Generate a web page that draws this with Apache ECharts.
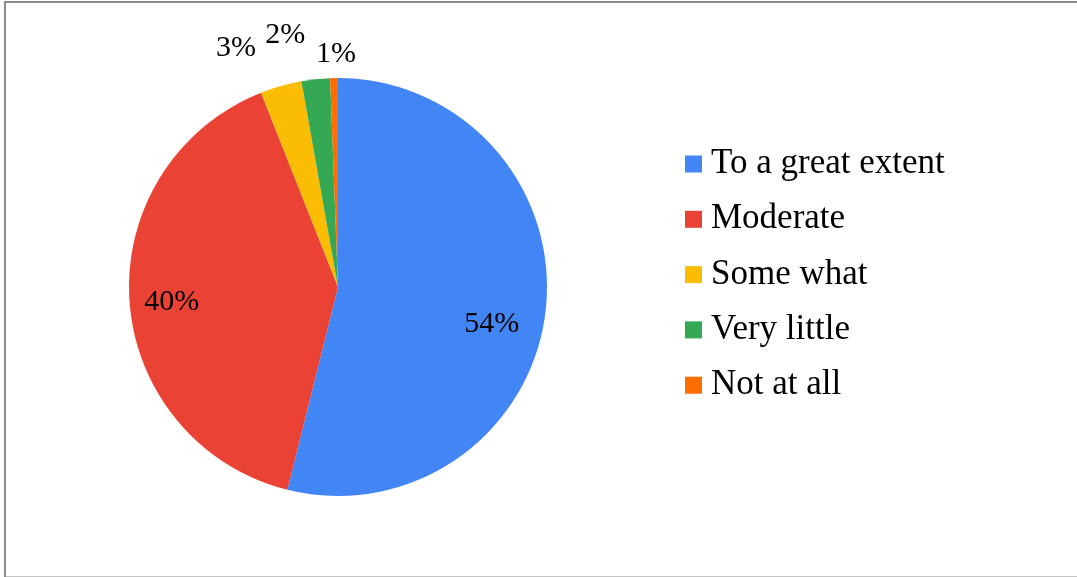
<!DOCTYPE html>
<html>
<head>
<meta charset="utf-8">
<script src="https://cdn.jsdelivr.net/npm/echarts@6/dist/echarts.min.js"></script>
<style>
html,body{margin:0;padding:0;background:#fff;}
#chart{width:1077px;height:577px;}
</style>
</head>
<body>
<div id="chart"></div>
<script>
// Data
const categories = ['To a great extent', 'Moderate', 'Some what', 'Very little', 'Not at all'];
const values = [53.9, 40.1, 3.2, 2.2, 0.6];
const colors = ['#4285F4', '#EA4335', '#FBBC04', '#34A853', '#FF6D01'];
const labelPositions = ['inside', 'inside', 'outside', 'outside', 'outside'];

// Label nudges (layout only)
const labelNudges = [[47, 24], [-59, 8], [-31, 11], [-25, 7], [3, 27]];

const FONT = '"Liberation Serif", "Times New Roman", serif';

const chart = echarts.init(document.getElementById('chart'), null, {renderer: 'canvas'});
chart.setOption({
  animation: false,
  backgroundColor: '#ffffff',
  color: colors,
  graphic: [{
    type: 'rect',
    shape: {x: 5, y: 2, width: 1090, height: 575.5},
    style: {fill: 'none', stroke: '#8c8c8c', lineWidth: 2},
    silent: true,
    z: 100
  }],
  legend: {
    orient: 'vertical',
    left: 685,
    top: 144,
    padding: 0,
    icon: 'rect',
    itemWidth: 17,
    itemHeight: 17,
    itemGap: 15.3,
    itemStyle: {borderWidth: 0},
    textStyle: {fontFamily: FONT, fontSize: 35, color: '#000', lineHeight: 40, padding: [0, 0, 0, 4]},
    data: categories
  },
  series: [{
    type: 'pie',
    center: [338, 287],
    radius: [0, 209],
    startAngle: 90,
    clockwise: true,
    avoidLabelOverlap: false,
    percentPrecision: 0,
    itemStyle: {borderWidth: 0},
    label: {
      formatter: '{d}%',
      fontFamily: FONT,
      fontSize: 30,
      color: '#000'
    },
    labelLine: {show: false, length: 51, length2: 0},
    emphasis: {disabled: true},
    labelLayout: function (p) {
      const n = labelNudges[p.dataIndex];
      return {dx: n[0], dy: n[1], align: 'center', verticalAlign: 'middle'};
    },
    data: categories.map((c, i) => ({
      name: c,
      value: values[i],
      label: {position: labelPositions[i], distanceToLabelLine: 0}
    }))
  }]
});
</script>
</body>
</html>
